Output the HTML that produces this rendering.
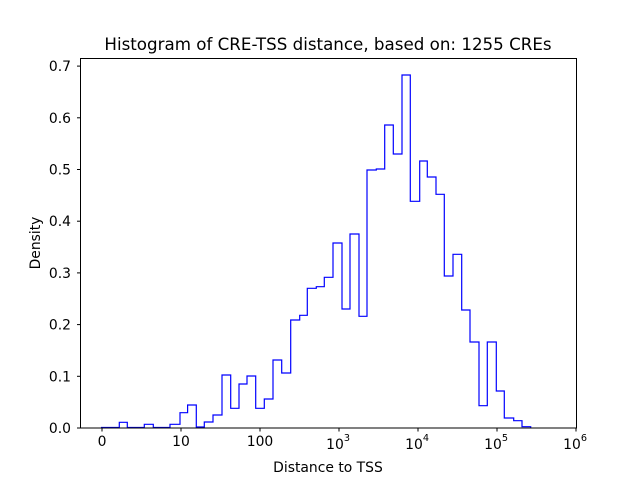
<!DOCTYPE html>
<html><head><meta charset="utf-8"><style>body{margin:0;background:#fff}svg{display:block}text{font-family:"DejaVu Sans","Liberation Sans",sans-serif;fill:#000}</style></head><body>
<svg width="640" height="480" viewBox="0 0 640 480" xmlns="http://www.w3.org/2000/svg">
<rect width="640" height="480" fill="#fff"/>
<polyline fill="none" stroke="#0000ff" stroke-width="1.2" points="101,427.5 119.3,427.5 119.3,422.3 127.3,422.3 127.3,427.5 144.3,427.5 144.3,424.3 153.3,424.3 153.3,427.5 170,427.5 170,424.3 180,424.3 180,412.7 187.6,412.7 187.6,405 196.3,405 196.3,427 204.3,427 204.3,422 213,422 213,415 222,415 222,375 230.7,375 230.7,408.3 239,408.3 239,384 247,384 247,376 255.7,376 255.7,408.3 264.3,408.3 264.3,399 273,399 273,360 281.7,360 281.7,373 290.7,373 290.7,320 299.7,320 299.7,315.3 307.3,315.3 307.3,288.3 316.3,288.3 316.3,286.7 324.3,286.7 324.3,277.3 333,277.3 333,243 342,243 342,309 350,309 350,234 359,234 359,316.3 367,316.3 367,170 376.3,170 376.3,169 384.7,169 384.7,125 393.3,125 393.3,154 402,154 402,75 410.3,75 410.3,201.3 419.7,201.3 419.7,161 427.3,161 427.3,177 436,177 436,194.3 444.3,194.3 444.3,276 453,276 453,254.3 461.7,254.3 461.7,310 470,310 470,342 479,342 479,405.7 487.3,405.7 487.3,342 496.3,342 496.3,391 504.3,391 504.3,418 513.7,418 513.7,420.7 522,420.7 522,426.7 530.7,426.7 530.7,427.5"/>
<rect x="80.5" y="58.5" width="496" height="369.5" fill="none" stroke="#000" stroke-width="1"/>
<g stroke="#000" stroke-width="1">
<line x1="102" y1="428" x2="102" y2="431.5"/><line x1="181" y1="428" x2="181" y2="431.5"/><line x1="260" y1="428" x2="260" y2="431.5"/><line x1="339" y1="428" x2="339" y2="431.5"/><line x1="418" y1="428" x2="418" y2="431.5"/><line x1="497" y1="428" x2="497" y2="431.5"/><line x1="576" y1="428" x2="576" y2="431.5"/>
<line x1="77" y1="428" x2="80.5" y2="428"/><line x1="77" y1="376.3" x2="80.5" y2="376.3"/><line x1="77" y1="324.6" x2="80.5" y2="324.6"/><line x1="77" y1="272.9" x2="80.5" y2="272.9"/><line x1="77" y1="221.2" x2="80.5" y2="221.2"/><line x1="77" y1="169.5" x2="80.5" y2="169.5"/><line x1="77" y1="117.8" x2="80.5" y2="117.8"/><line x1="77" y1="66.1" x2="80.5" y2="66.1"/>
</g>
<g font-size="13.9" text-anchor="middle">
<text x="102" y="446">0</text><text x="181" y="446">10</text><text x="260" y="446">100</text>
<text x="335" y="449">10</text><text x="347" y="441" font-size="9.7">3</text>
<text x="414" y="449">10</text><text x="426" y="441" font-size="9.7">4</text>
<text x="493" y="449">10</text><text x="505" y="441" font-size="9.7">5</text>
<text x="572" y="449">10</text><text x="584" y="441" font-size="9.7">6</text>
</g>
<g font-size="13.9" text-anchor="end">
<text x="71" y="433">0.0</text><text x="71" y="381.3">0.1</text><text x="71" y="329.6">0.2</text><text x="71" y="277.9">0.3</text><text x="71" y="226.2">0.4</text><text x="71" y="174.5">0.5</text><text x="71" y="122.8">0.6</text><text x="71" y="71.1">0.7</text>
</g>
<text x="328" y="472" font-size="13.9" text-anchor="middle">Distance to TSS</text>
<text x="40" y="243" font-size="13.9" text-anchor="middle" transform="rotate(-90 40 243)">Density</text>
<text x="328" y="50" font-size="16.7" text-anchor="middle">Histogram of CRE-TSS distance, based on: 1255 CREs</text>
</svg>
</body></html>
